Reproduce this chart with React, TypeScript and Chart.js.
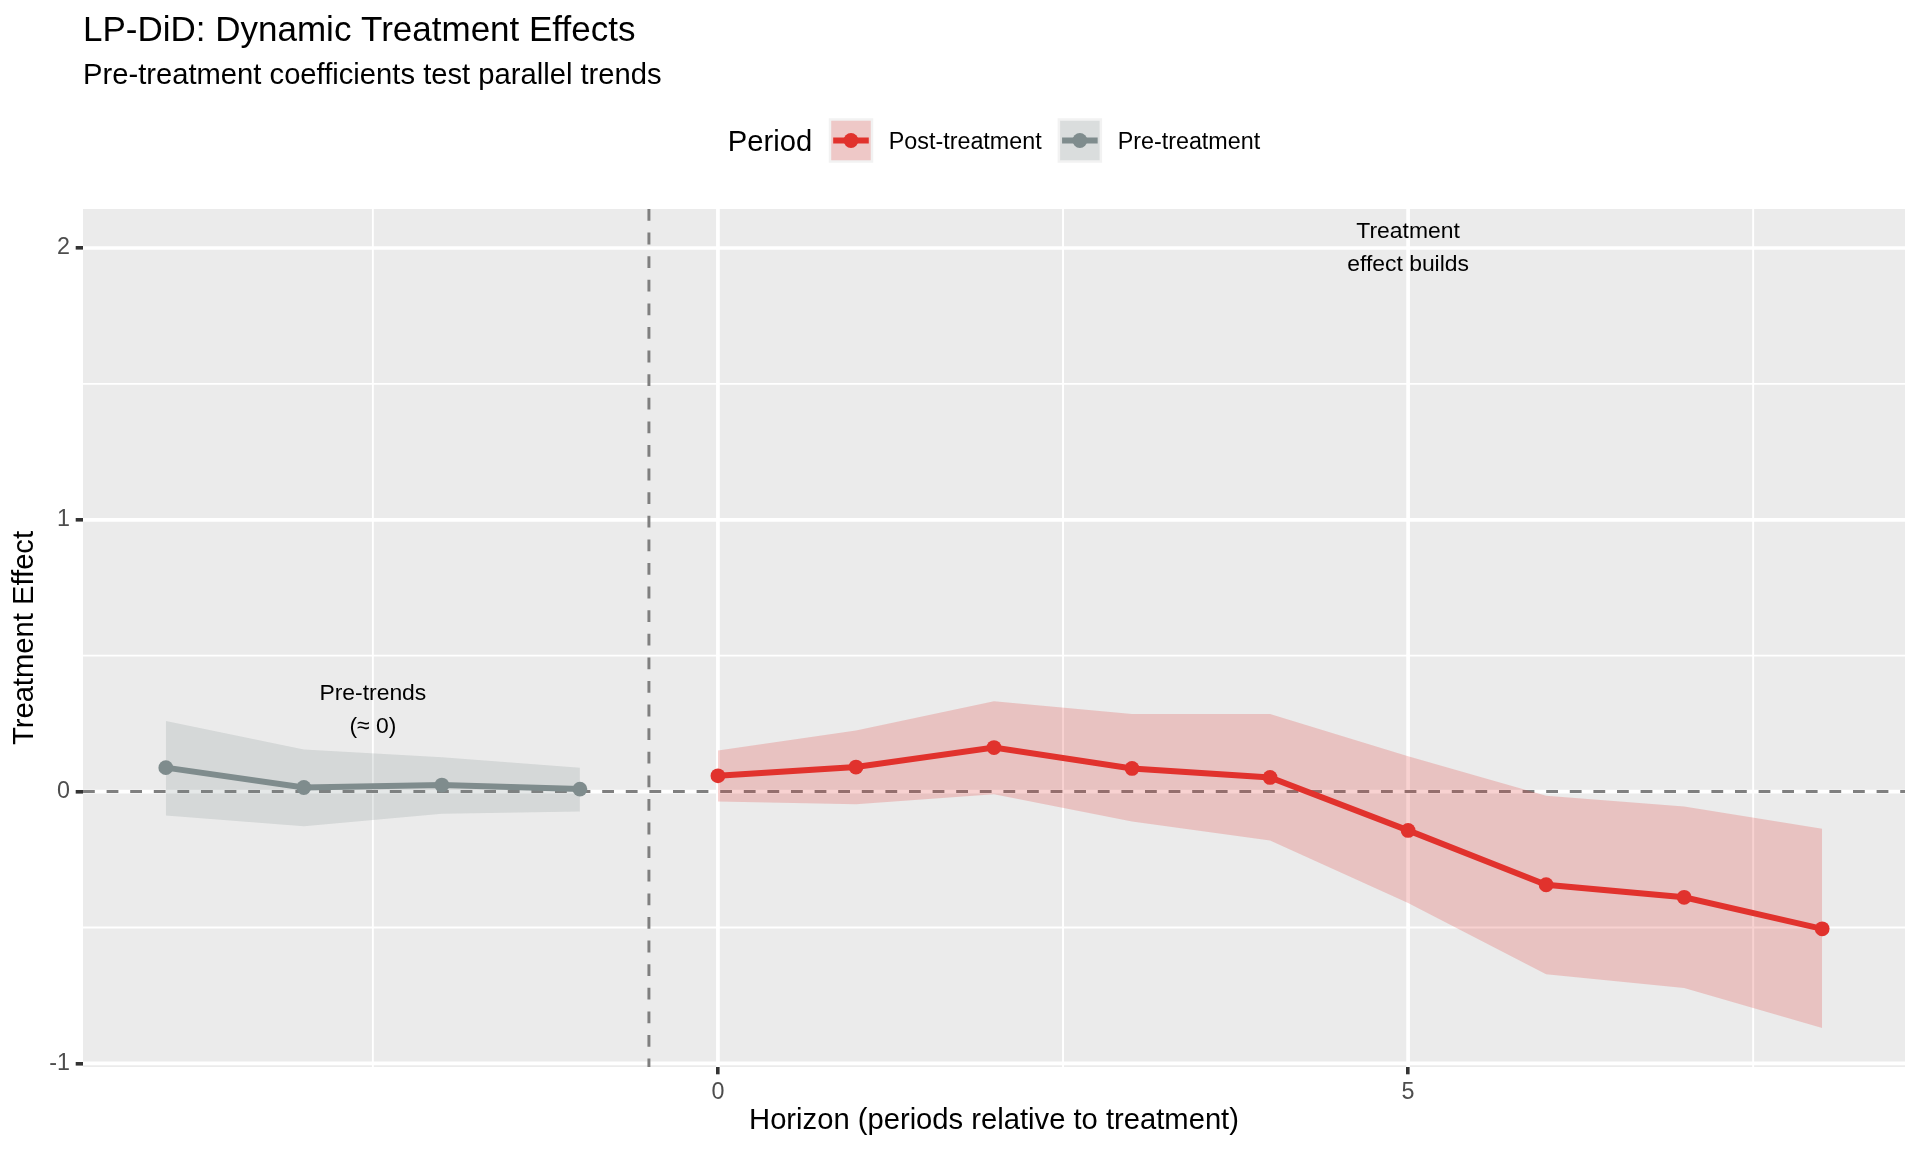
import React, { useEffect, useRef } from 'react';
import { Chart, registerables } from 'chart.js';

Chart.register(...registerables);

// ---- Data ----
const preHorizon = [-4, -3, -2, -1];
const preEstimate = [0.088, 0.015, 0.024, 0.009];
const preLower = [-0.088, -0.128, -0.082, -0.073];
const preUpper = [0.26, 0.155, 0.126, 0.088];

const postHorizon = [0, 1, 2, 3, 4, 5, 6, 7, 8];
const postEstimate = [0.058, 0.09, 0.162, 0.085, 0.052, -0.143, -0.343, -0.389, -0.505];
const postLower = [-0.037, -0.047, -0.01, -0.11, -0.18, -0.41, -0.672, -0.723, -0.87];
const postUpper = [0.151, 0.225, 0.332, 0.285, 0.285, 0.13, -0.015, -0.055, -0.137];

const xMajorTicks = [0, 5];
const xMinorBreaks = [-2.5, 2.5, 7.5];
const yMajorTicks = [-1, 0, 1, 2];
const yMinorBreaks = [-0.5, 0.5, 1.5];

const treatmentLineX = -0.5;
const zeroLineY = 0;

const periodNames = ['Post-treatment', 'Pre-treatment'];

const annotationX = [-2.5, 5];
const annotationY = [0.3, 2];
const annotationLines = [['Pre-trends', '(≈ 0)'], ['Treatment', 'effect builds']];

const titleText = 'LP-DiD: Dynamic Treatment Effects';
const subtitleText = 'Pre-treatment coefficients test parallel trends';
const xTitle = 'Horizon (periods relative to treatment)';
const yTitle = 'Treatment Effect';
const legendTitle = 'Period';

// ---- Styling ----
const FONT = '"Liberation Sans", Arial, Helvetica, sans-serif';
const POST_COLOR = '#E1322D';
const POST_FILL = 'rgba(225, 50, 45, 0.22)';
const PRE_COLOR = '#7F8C8D';
const PRE_FILL = 'rgba(127, 140, 141, 0.2)';
const PANEL_BG = '#EBEBEB';

const toPoints = (xs: number[], ys: number[]) => xs.map((x, i) => ({ x, y: ys[i] }));

const ggPlugin = {
  id: 'ggDecor',
  beforeDatasetsDraw(chart: any) {
    const { ctx, chartArea: a, scales } = chart;
    const x = scales.x;
    const y = scales.y;
    ctx.save();
    ctx.fillStyle = PANEL_BG;
    ctx.fillRect(a.left, a.top, a.right - a.left, a.bottom - a.top);
    ctx.beginPath();
    ctx.rect(a.left, a.top, a.right - a.left, a.bottom - a.top);
    ctx.clip();
    ctx.strokeStyle = '#FFFFFF';
    const vline = (v: number) => {
      const px = x.getPixelForValue(v);
      ctx.beginPath();
      ctx.moveTo(px, a.top);
      ctx.lineTo(px, a.bottom);
      ctx.stroke();
    };
    const hline = (v: number) => {
      const py = y.getPixelForValue(v);
      ctx.beginPath();
      ctx.moveTo(a.left, py);
      ctx.lineTo(a.right, py);
      ctx.stroke();
    };
    ctx.lineWidth = 1.9;
    xMinorBreaks.forEach(vline);
    yMinorBreaks.forEach(hline);
    ctx.lineWidth = 3.7;
    xMajorTicks.forEach(vline);
    yMajorTicks.forEach(hline);
    ctx.strokeStyle = '#7F7F7F';
    ctx.lineWidth = 2.95;
    ctx.setLineDash([11.8, 11.8]);
    hline(zeroLineY);
    vline(treatmentLineX);
    ctx.restore();
  },
  afterDraw(chart: any) {
    const { ctx, chartArea: a, scales } = chart;
    const x = scales.x;
    const y = scales.y;
    ctx.save();
    // Title & subtitle
    ctx.fillStyle = '#000000';
    ctx.textAlign = 'left';
    ctx.textBaseline = 'alphabetic';
    ctx.font = `35px ${FONT}`;
    ctx.fillText(titleText, a.left, 41);
    ctx.font = `29.2px ${FONT}`;
    ctx.fillText(subtitleText, a.left, 83.5);

    // Legend
    const keySize = 44.5;
    const legendCenterY = 140.5;
    ctx.font = `29.2px ${FONT}`;
    const titleW = ctx.measureText(legendTitle).width;
    ctx.font = `23.3px ${FONT}`;
    const textW = periodNames.map((t) => ctx.measureText(t).width);
    const gapTitle = 16.5;
    const gapKeyText = 15.6;
    const gapItems = 16;
    const total = titleW + gapTitle + (keySize + gapKeyText) * 2 + textW[0] + gapItems + textW[1];
    let cx = (a.left + a.right) / 2 - total / 2;
    ctx.font = `29.2px ${FONT}`;
    ctx.fillStyle = '#000000';
    ctx.fillText(legendTitle, cx, legendCenterY + 10.5);
    cx += titleW + gapTitle;
    const colors = [POST_COLOR, PRE_COLOR];
    const fills = [POST_FILL, PRE_FILL];
    for (let i = 0; i < 2; i++) {
      const kx = cx;
      const ky = legendCenterY - keySize / 2;
      ctx.fillStyle = '#F2F2F2';
      ctx.fillRect(kx, ky, keySize, keySize);
      ctx.fillStyle = fills[i];
      ctx.fillRect(kx + 2.5, ky + 2.5, keySize - 5, keySize - 5);
      ctx.strokeStyle = colors[i];
      ctx.lineWidth = 6;
      ctx.setLineDash([]);
      ctx.beginPath();
      ctx.moveTo(kx + keySize * 0.1, legendCenterY);
      ctx.lineTo(kx + keySize * 0.9, legendCenterY);
      ctx.stroke();
      ctx.fillStyle = colors[i];
      ctx.beginPath();
      ctx.arc(kx + keySize / 2, legendCenterY, 7.4, 0, Math.PI * 2);
      ctx.fill();
      cx += keySize + gapKeyText;
      ctx.font = `23.3px ${FONT}`;
      ctx.fillStyle = '#000000';
      ctx.fillText(periodNames[i], cx, legendCenterY + 8.3);
      cx += textW[i] + gapItems;
    }

    // Annotations
    ctx.font = `22.9px ${FONT}`;
    ctx.fillStyle = '#000000';
    ctx.textAlign = 'center';
    ctx.textBaseline = 'middle';
    const lineGap = 33;
    annotationLines.forEach((lines, i) => {
      const px = x.getPixelForValue(annotationX[i]);
      const py = y.getPixelForValue(annotationY[i]);
      const start = py - ((lines.length - 1) * lineGap) / 2;
      lines.forEach((t, j) => ctx.fillText(t, px, start + j * lineGap));
    });
    ctx.restore();
  },
};

export default function App() {
  const canvasRef = useRef<HTMLCanvasElement | null>(null);

  useEffect(() => {
    if (!canvasRef.current) return;
    Chart.defaults.font.family = FONT;
    const ribbon = (xs: number[], ys: number[], fill: any, color: string) => ({
      data: toPoints(xs, ys),
      fill,
      backgroundColor: color,
      borderColor: 'rgba(0,0,0,0)',
      borderWidth: 0,
      pointRadius: 0,
      pointHoverRadius: 0,
      tension: 0,
    });
    const chart = new Chart(canvasRef.current, {
      type: 'line',
      data: {
        datasets: [
          {
            label: periodNames[0],
            data: toPoints(postHorizon, postEstimate),
            borderColor: POST_COLOR,
            backgroundColor: POST_COLOR,
            borderWidth: 6,
            pointRadius: 7.4,
            pointHoverRadius: 7.4,
            pointBorderWidth: 0,
            pointBackgroundColor: POST_COLOR,
            fill: false,
            tension: 0,
          },
          {
            label: periodNames[1],
            data: toPoints(preHorizon, preEstimate),
            borderColor: PRE_COLOR,
            backgroundColor: PRE_COLOR,
            borderWidth: 6,
            pointRadius: 7.4,
            pointHoverRadius: 7.4,
            pointBorderWidth: 0,
            pointBackgroundColor: PRE_COLOR,
            fill: false,
            tension: 0,
          },
          ribbon(postHorizon, postUpper, '+1', POST_FILL),
          ribbon(postHorizon, postLower, false, 'rgba(0,0,0,0)'),
          ribbon(preHorizon, preUpper, '+1', PRE_FILL),
          ribbon(preHorizon, preLower, false, 'rgba(0,0,0,0)'),
        ] as any,
      },
      options: {
        responsive: false,
        maintainAspectRatio: false,
        animation: false,
        devicePixelRatio: 1,
        events: [],
        layout: { padding: { left: 0, top: 209, right: 15, bottom: 0 } },
        plugins: {
          legend: { display: false },
          tooltip: { enabled: false },
          title: { display: false },
        },
        scales: {
          x: {
            type: 'linear',
            min: -4.6,
            max: 8.6,
            afterBuildTicks: (s: any) => {
              s.ticks = xMajorTicks.map((v) => ({ value: v }));
            },
            afterFit: (s: any) => {
              s.height = 85;
            },
            ticks: {
              autoSkip: false,
              maxRotation: 0,
              padding: 4,
              color: '#4D4D4D',
              font: { size: 23.3, family: FONT, lineHeight: 1.2 },
              callback: (v: any) => String(v),
            },
            grid: {
              drawOnChartArea: false,
              drawTicks: true,
              tickLength: 7.3,
              tickColor: '#333333',
              tickWidth: 3.6,
              color: '#333333',
              lineWidth: 3.6,
            },
            border: { display: false },
            title: {
              display: true,
              text: xTitle,
              color: '#000000',
              font: { size: 29.2, family: FONT, lineHeight: 1.2 },
              padding: { top: 0, bottom: 13.7 },
            },
          },
          y: {
            type: 'linear',
            min: -1.0135,
            max: 2.1435,
            afterBuildTicks: (s: any) => {
              s.ticks = yMajorTicks.map((v) => ({ value: v }));
            },
            afterFit: (s: any) => {
              s.width = 83;
            },
            ticks: {
              autoSkip: false,
              padding: 5.8,
              color: '#4D4D4D',
              font: { size: 23.3, family: FONT, lineHeight: 1.2 },
              callback: (v: any) => String(v),
            },
            grid: {
              drawOnChartArea: false,
              drawTicks: true,
              tickLength: 7.3,
              tickColor: '#333333',
              tickWidth: 3.6,
              color: '#333333',
              lineWidth: 3.6,
            },
            border: { display: false },
            title: {
              display: true,
              text: yTitle,
              color: '#000000',
              font: { size: 29.2, family: FONT, lineHeight: 1.2 },
              padding: { top: 7.9, bottom: 0 },
            },
          },
        },
      } as any,
      plugins: [ggPlugin as any],
    });
    return () => chart.destroy();
  }, []);

  return (
    <div style={{ position: 'fixed', left: 0, top: 0, width: 1920, height: 1152, background: '#FFFFFF' }}>
      <canvas ref={canvasRef} width={1920} height={1152} style={{ display: 'block', width: 1920, height: 1152 }} />
    </div>
  );
}
